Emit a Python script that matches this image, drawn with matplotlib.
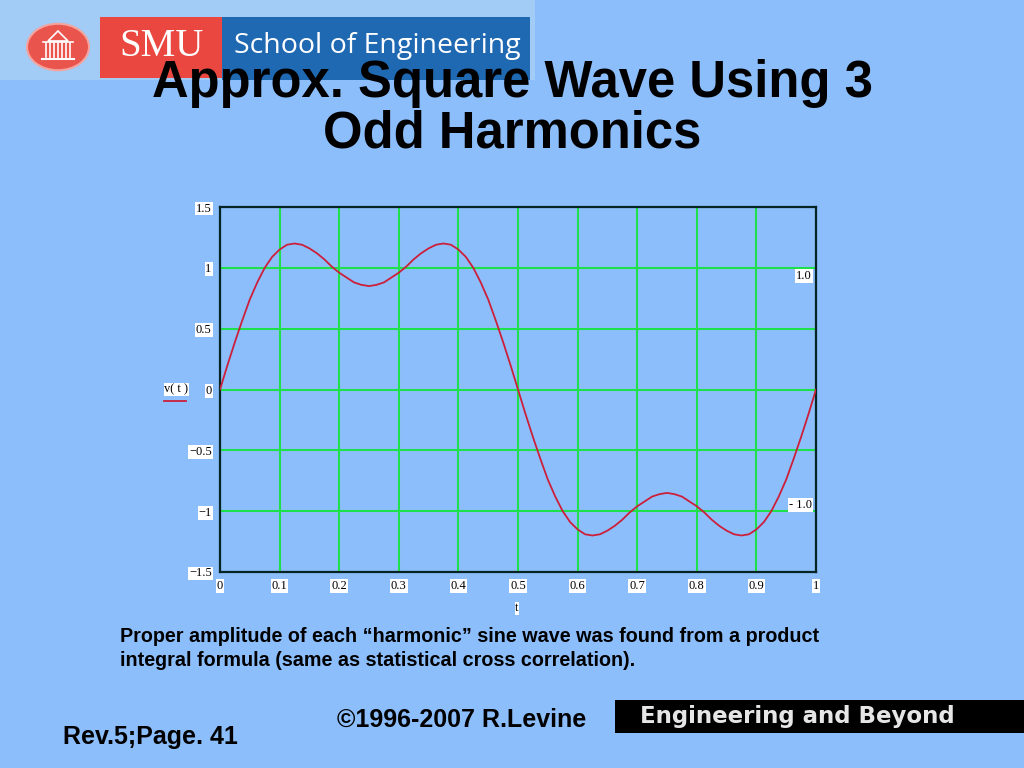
import matplotlib
matplotlib.use("Agg")
import matplotlib.pyplot as plt
from matplotlib.patches import Rectangle, Circle, Polygon
from matplotlib.lines import Line2D

# ---------------- data ----------------
t_vals = [0.0, 0.0125, 0.025, 0.0375, 0.05, 0.0625, 0.075, 0.0875, 0.1, 0.1125,
          0.125, 0.1375, 0.15, 0.1625, 0.175, 0.1875, 0.2, 0.2125, 0.225, 0.2375,
          0.25, 0.2625, 0.275, 0.2875, 0.3, 0.3125, 0.325, 0.3375, 0.35, 0.3625,
          0.375, 0.3875, 0.4, 0.4125, 0.425, 0.4375, 0.45, 0.4625, 0.475, 0.4875,
          0.5, 0.5125, 0.525, 0.5375, 0.55, 0.5625, 0.575, 0.5875, 0.6, 0.6125,
          0.625, 0.6375, 0.65, 0.6625, 0.675, 0.6875, 0.7, 0.7125, 0.725, 0.7375,
          0.75, 0.7625, 0.775, 0.7875, 0.8, 0.8125, 0.825, 0.8375, 0.85, 0.8625,
          0.875, 0.8875, 0.9, 0.9125, 0.925, 0.9375, 0.95, 0.9625, 0.975, 0.9875,
          1.0]
v_vals = [0.00, 0.20, 0.39, 0.57, 0.74, 0.88, 1.00, 1.09, 1.15, 1.19,
          1.20, 1.19, 1.16, 1.12, 1.07, 1.01, 0.96, 0.92, 0.88, 0.86,
          0.85, 0.86, 0.88, 0.92, 0.96, 1.01, 1.07, 1.12, 1.16, 1.19,
          1.20, 1.19, 1.15, 1.09, 1.00, 0.88, 0.74, 0.57, 0.39, 0.20,
          0.00, -0.20, -0.39, -0.57, -0.74, -0.88, -1.00, -1.09, -1.15, -1.19,
          -1.20, -1.19, -1.16, -1.12, -1.07, -1.01, -0.96, -0.92, -0.88, -0.86,
          -0.85, -0.86, -0.88, -0.92, -0.96, -1.01, -1.07, -1.12, -1.16, -1.19,
          -1.20, -1.19, -1.15, -1.09, -1.00, -0.88, -0.74, -0.57, -0.39, -0.20,
          0.00]
x_ticks = [0, 0.1, 0.2, 0.3, 0.4, 0.5, 0.6, 0.7, 0.8, 0.9, 1]
x_tick_labels = ["0", "0.1", "0.2", "0.3", "0.4", "0.5", "0.6", "0.7", "0.8", "0.9", "1"]
y_ticks = [-1.5, -1, -0.5, 0, 0.5, 1, 1.5]
y_tick_labels = ["\u22121.5", "\u22121", "\u22120.5", "0", "0.5", "1", "1.5"]
marker_levels = [1.0, -1.0]
marker_labels = ["1.0", "- 1.0"]

title_lines = ["Approx. Square Wave Using 3", "Odd Harmonics"]
note_lines = ["Proper amplitude of each \u201charmonic\u201d sine wave was found from a product",
              "integral formula (same as statistical cross correlation)."]

BG = "#8DBEFC"
W, H = 1024, 768

fig = plt.figure(figsize=(W / 100, H / 100), dpi=100)
fig.patch.set_facecolor(BG)

def fx(x):
    return x / W

def fy(y):
    return 1 - y / H

SANS = ["Liberation Sans", "DejaVu Sans"]
SERIF = ["Liberation Serif", "DejaVu Serif"]

# ---------------- logo banner ----------------
fig.patches.append(Rectangle((0, fy(80)), fx(535), 80 / H, transform=fig.transFigure,
                             facecolor="#A2CBF6", edgecolor="none", zorder=0))
fig.patches.append(Circle((fx(58), fy(47)), 31 / W, transform=fig.transFigure,
                          facecolor="#E9544C", edgecolor="#F4A49E", lw=1.5, zorder=1))
# small white building icon
bx, by = 58, 47
dome = Polygon([(fx(bx - 10), fy(by - 6)), (fx(bx), fy(by - 16)), (fx(bx + 10), fy(by - 6))],
               closed=True, transform=fig.transFigure, facecolor="none", edgecolor="white", lw=1.2, zorder=2)
fig.patches.append(dome)
for cx in range(-12, 13, 4):
    fig.lines.append(Line2D([fx(bx + cx), fx(bx + cx)], [fy(by - 4), fy(by + 10)],
                            transform=fig.transFigure, color="white", lw=1.2, zorder=2))
fig.lines.append(Line2D([fx(bx - 15), fx(bx + 15)], [fy(by - 5), fy(by - 5)],
                        transform=fig.transFigure, color="white", lw=1.2, zorder=2))
fig.lines.append(Line2D([fx(bx - 16), fx(bx + 16)], [fy(by + 12), fy(by + 12)],
                        transform=fig.transFigure, color="white", lw=1.5, zorder=2))
fig.patches.append(Rectangle((fx(100), fy(78)), fx(122), 61 / H, transform=fig.transFigure,
                             facecolor="#E9473F", edgecolor="none", zorder=1))
fig.patches.append(Rectangle((fx(222), fy(80)), fx(308), 63 / H, transform=fig.transFigure,
                             facecolor="#1F68B2", edgecolor="none", zorder=1))
fig.text(fx(162), fy(46), "SMU", family=SERIF, fontsize=28, color="white",
         ha="center", va="center", zorder=3)
fig.text(fx(377), fy(46), "School of Engineering", family=["Open Sans", "DejaVu Sans"],
         fontsize=20.5, color="white", ha="center", va="center", zorder=3)

# ---------------- title ----------------
fig.text(fx(512), fy(97), title_lines[0], family=SANS, fontweight="bold",
         fontsize=36.5, color="black", ha="center", va="baseline", zorder=5)
fig.text(fx(512), fy(147), title_lines[1], family=SANS, fontweight="bold",
         fontsize=36.5, color="black", ha="center", va="baseline", zorder=5)

# ---------------- chart ----------------
ax = fig.add_axes([fx(220), fy(572), 596 / W, 365 / H])
ax.set_facecolor(BG)
ax.plot(t_vals, v_vals, color="#CC1F3A", lw=1.3, zorder=3)
ax.set_xlim(0, 1)
ax.set_ylim(-1.5, 1.5)
ax.set_xticks(x_ticks)
ax.set_xticklabels(x_tick_labels)
ax.set_yticks(y_ticks)
ax.set_yticklabels(y_tick_labels)
ax.grid(True, color="#1EE04A", lw=1.5, zorder=1)
ax.set_axisbelow(True)
ax.tick_params(length=0, labelsize=9, pad=6)
for lab in ax.get_xticklabels() + ax.get_yticklabels():
    lab.set_family(SERIF)
    lab.set_bbox(dict(facecolor="white", edgecolor="none", pad=0.6))
for s in ax.spines.values():
    s.set_color("#062424")
    s.set_linewidth(1.6)

marker_offsets = [-0.07, 0.05]
for lvl, lab, off in zip(marker_levels, marker_labels, marker_offsets):
    ax.text(0.993, lvl + off, lab, family=SERIF, fontsize=9, ha="right", va="center",
            bbox=dict(facecolor="white", edgecolor="none", pad=0.6), zorder=4)

fig.text(fx(176), fy(389), "v( t )", family=SERIF, fontsize=9, ha="center", va="center",
         bbox=dict(facecolor="white", edgecolor="none", pad=0.4))
fig.lines.append(Line2D([fx(164), fx(186)], [fy(401), fy(401)], transform=fig.transFigure,
                        color="#CC1F3A", lw=1.3))
fig.text(fx(517), fy(608), "t", family=SERIF, fontsize=9, ha="center", va="center",
         bbox=dict(facecolor="white", edgecolor="none", pad=0.4))

# ---------------- notes / footer ----------------
fig.text(fx(120), fy(636), note_lines[0], family=SANS, fontweight="bold", fontsize=14.2,
         ha="left", va="center")
fig.text(fx(120), fy(661), note_lines[1], family=SANS, fontweight="bold", fontsize=14.2,
         ha="left", va="center")
fig.text(fx(462), fy(720), "\u00a91996-2007 R.Levine", family=SANS, fontweight="bold",
         fontsize=18, ha="center", va="center")
fig.text(fx(150), fy(737), "Rev.5;Page. 41", family=SANS, fontweight="bold",
         fontsize=18, ha="center", va="center")
fig.patches.append(Rectangle((fx(615), fy(733)), fx(409), 33 / H, transform=fig.transFigure,
                             facecolor="black", edgecolor="none"))
fig.text(fx(797), fy(716), "Engineering and Beyond", family=["DejaVu Sans"], fontweight="bold",
         fontsize=16.5, color="#E6E6E6", ha="center", va="center")

fig.savefig("out.png", dpi=100, facecolor=BG)
